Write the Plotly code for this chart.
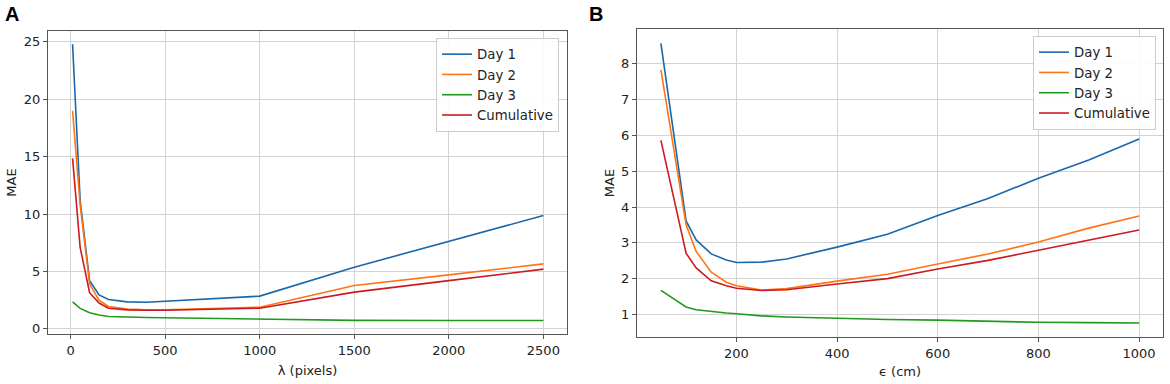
import plotly.graph_objects as go

# ---------- Panel A data ----------
lam = [10, 50, 100, 150, 200, 300, 400, 500, 1000, 1500, 2000, 2500]
a_day1 = [24.8, 11.2, 4.2, 2.95, 2.55, 2.35, 2.32, 2.4, 2.85, 5.37, 7.6, 9.87]
a_day2 = [19.0, 10.8, 3.9, 2.5, 1.95, 1.72, 1.66, 1.66, 1.88, 3.77, 4.7, 5.66]
a_day3 = [2.35, 1.78, 1.4, 1.2, 1.07, 1.0, 0.99, 0.97, 0.85, 0.74, 0.72, 0.72]
a_cum = [14.85, 7.1, 3.15, 2.25, 1.8, 1.65, 1.62, 1.62, 1.8, 3.2, 4.2, 5.2]

# ---------- Panel B data ----------
eps = [50, 100, 120, 150, 180, 200, 250, 300, 400, 500, 600, 700, 800, 900, 1000]
b_day1 = [8.57, 3.61, 3.08, 2.69, 2.52, 2.45, 2.46, 2.55, 2.88, 3.24, 3.76, 4.24, 4.8, 5.31, 5.9]
b_day2 = [7.83, 3.5, 2.76, 2.18, 1.9, 1.8, 1.68, 1.72, 1.93, 2.12, 2.41, 2.69, 3.02, 3.41, 3.75]
b_day3 = [1.67, 1.21, 1.13, 1.08, 1.04, 1.02, 0.96, 0.93, 0.89, 0.86, 0.84, 0.8, 0.78, 0.77, 0.76]
b_cum = [5.86, 2.71, 2.3, 1.94, 1.8, 1.73, 1.67, 1.69, 1.85, 2.0, 2.27, 2.51, 2.79, 3.08, 3.36]

names = ["Day 1", "Day 2", "Day 3", "Cumulative"]
colors = ["#1a67ab", "#ff7414", "#1f9a1f", "#cc1a20"]

FONT = "DejaVu Sans, Verdana, sans-serif"
LBL_FONT = "Liberation Sans, Arial, sans-serif"
W, H = 1170, 384

fig = go.Figure()

for n, c, ys in zip(names, colors, [a_day1, a_day2, a_day3, a_cum]):
    fig.add_trace(go.Scatter(x=lam, y=ys, mode="lines", name=n,
                             line=dict(color=c, width=1.6),
                             xaxis="x", yaxis="y", legend="legend"))
for n, c, ys in zip(names, colors, [b_day1, b_day2, b_day3, b_cum]):
    fig.add_trace(go.Scatter(x=eps, y=ys, mode="lines", name=n,
                             line=dict(color=c, width=1.6),
                             xaxis="x2", yaxis="y2", legend="legend2"))

axis_common = dict(
    showgrid=True, gridcolor="#d3d3d3", gridwidth=1,
    showline=True, linecolor="#555555", linewidth=1, mirror=True,
    ticks="outside", ticklen=4, tickcolor="#555555",
    tickfont=dict(family=FONT, size=13, color="#222222"),
    zeroline=False, automargin=False,
)

def dom_x(l, r):
    return [l / W, r / W]

def dom_y(t, b):
    return [1 - b / H, 1 - t / H]

title_font = dict(family=FONT, size=13, color="#222222")
leg_common = dict(xanchor="right", yanchor="top",
                  bgcolor="rgba(255,255,255,0.9)", bordercolor="#cccccc", borderwidth=1,
                  font=dict(family=FONT, size=13.3, color="#222222"),
                  tracegroupgap=0, itemwidth=30)

fig.update_layout(
    width=W, height=H,
    margin=dict(l=0, r=0, t=0, b=0),
    paper_bgcolor="white", plot_bgcolor="white",
    font=dict(family=FONT, size=13, color="#222222"),
    xaxis=dict(axis_common, domain=dom_x(48, 567), range=[-120, 2625],
               tickvals=[0, 500, 1000, 1500, 2000, 2500],
               title=dict(text="λ (pixels)", font=title_font, standoff=9),
               anchor="y"),
    yaxis=dict(axis_common, domain=dom_y(31, 334), range=[-0.45, 25.95],
               tickvals=[0, 5, 10, 15, 20, 25],
               title=dict(text="MAE", font=title_font, standoff=4),
               anchor="x"),
    xaxis2=dict(axis_common, domain=dom_x(637, 1163), range=[2.5, 1047.5],
                tickvals=[200, 400, 600, 800, 1000],
                title=dict(text="ϵ (cm)", font=title_font, standoff=7),
                anchor="y2"),
    yaxis2=dict(axis_common, domain=dom_y(29, 337), range=[0.37, 8.97],
                tickvals=[1, 2, 3, 4, 5, 6, 7, 8],
                title=dict(text="MAE", font=title_font, standoff=3),
                anchor="x2"),
    legend=dict(leg_common, x=559 / W, y=1 - 38 / H),
    legend2=dict(leg_common, x=1156 / W, y=1 - 36 / H),
    annotations=[
        dict(text="<b>A</b>", x=3 / W, y=1.0, xref="paper", yref="paper",
             xanchor="left", yanchor="top", showarrow=False, yshift=-1,
             font=dict(family=LBL_FONT, size=20, color="black")),
        dict(text="<b>B</b>", x=587 / W, y=1.0, xref="paper", yref="paper",
             xanchor="left", yanchor="top", showarrow=False, yshift=-1,
             font=dict(family=LBL_FONT, size=20, color="black")),
    ],
)

fig.write_html("out.html", config={"displayModeBar": False},
               post_script="document.body.style.margin='0';document.body.style.padding='0';")
